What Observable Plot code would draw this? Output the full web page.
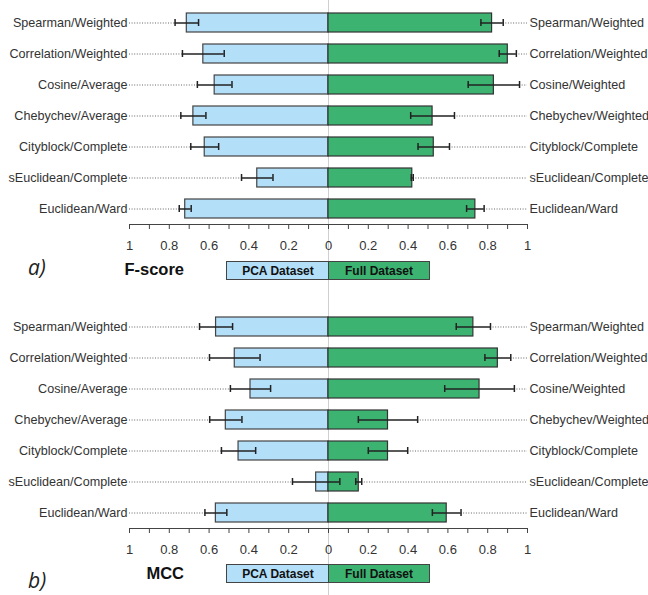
<!DOCTYPE html>
<html>
<head>
<meta charset="utf-8">
<script src="https://cdn.jsdelivr.net/npm/d3@7"></script>
<script src="https://cdn.jsdelivr.net/npm/@observablehq/plot@0.6"></script>
<style>
  html, body { margin: 0; padding: 0; background: #fff; }
  #wrap { position: relative; width: 648px; height: 595px; overflow: hidden; font-family: "Liberation Sans", Arial, sans-serif; }
  .abs { position: absolute; }
  .leg { position: absolute; box-sizing: border-box; border: 1px solid #444; font-weight: bold; font-size: 12px; color: #111; display: flex; align-items: center; justify-content: center; }
  .metric { position: absolute; font-weight: bold; font-size: 16.5px; color: #111; text-align: right; width: 100px; line-height: 20px; }
  .panel-tag { position: absolute; font-family: "Open Sans", sans-serif; font-style: italic; font-size: 21px; color: #222; line-height: 24px; }
</style>
</head>
<body>
<div id="wrap">
  <div class="abs" style="left:327.5px;top:0;width:1px;height:595px;background:#cfcfcf"></div>
  <div id="pa" class="abs" style="left:0;top:0"></div>
  <div id="pb" class="abs" style="left:0;top:304px"></div>

  <div class="panel-tag" style="left:28px;top:255px">a)</div>
  <div class="metric" style="left:84px;top:259px">F-score</div>
  <div class="leg" style="left:226px;top:261px;width:103px;height:19px;background:#b3dff9;border-right:none">PCA Dataset</div>
  <div class="leg" style="left:328px;top:261px;width:102px;height:19px;background:#3cb371">Full Dataset</div>

  <div class="panel-tag" style="left:28px;top:568px">b)</div>
  <div class="metric" style="left:84px;top:563px">MCC</div>
  <div class="leg" style="left:226px;top:564px;width:103px;height:19px;background:#b3dff9;border-right:none">PCA Dataset</div>
  <div class="leg" style="left:328px;top:564px;width:102px;height:19px;background:#3cb371">Full Dataset</div>
</div>
<script>
// Category labels
const leftLabels = ["Spearman/Weighted", "Correlation/Weighted", "Cosine/Average", "Chebychev/Average", "Cityblock/Complete", "sEuclidean/Complete", "Euclidean/Ward"];
const rightLabels = ["Spearman/Weighted", "Correlation/Weighted", "Cosine/Weighted", "Chebychev/Weighted", "Cityblock/Complete", "sEuclidean/Complete", "Euclidean/Ward"];

// a) F-score
const fscorePCA = [0.712, 0.629, 0.572, 0.679, 0.622, 0.358, 0.720];
const fscorePCAErr = [0.059, 0.105, 0.087, 0.063, 0.070, 0.079, 0.030];
const fscoreFull = [0.822, 0.901, 0.831, 0.523, 0.529, 0.421, 0.738];
const fscoreFullErr = [0.056, 0.043, 0.129, 0.110, 0.079, 0.005, 0.044];

// b) MCC
const mccPCA = [0.565, 0.471, 0.392, 0.516, 0.452, 0.062, 0.566];
const mccPCAErr = [0.083, 0.127, 0.101, 0.081, 0.086, 0.119, 0.055];
const mccFull = [0.728, 0.851, 0.759, 0.299, 0.299, 0.152, 0.594];
const mccFullErr = [0.086, 0.065, 0.175, 0.149, 0.099, 0.015, 0.072];

// Axis ticks (-1..1 step 0.1; labels every 0.2, shown as absolute values)
const tickValues = d3.range(-10, 11).map(k => k / 10);
const tickLabel = d => { const k = Math.round(d * 10); return k % 2 === 0 ? String(Math.abs(k) / 10) : ""; };

const pcaColor = "#b3dff9";
const fullColor = "#3cb371";

function panel(pca, pcaErr, full, fullErr) {
  const rows = leftLabels.map((l, i) => ({
    key: l, left: l, right: rightLabels[i],
    pca: pca[i], pe: pcaErr[i], full: full[i], fe: fullErr[i]
  }));
  const dot = {stroke: "#666", strokeWidth: 1, strokeDasharray: "1,1.6"};
  const err = {stroke: "#222", strokeWidth: 1.5};
  const cap = {stroke: "#222", strokeWidth: 1.5, insetTop: 6, insetBottom: 6};
  return Plot.plot({
    width: 648, height: 262,
    marginTop: 6, marginBottom: 38, marginLeft: 129, marginRight: 121,
    x: {domain: [-1, 1]},
    y: {domain: leftLabels, paddingInner: 0.4, paddingOuter: 0.2, axis: null},
    style: {fontFamily: "'Liberation Sans', Arial, sans-serif", background: "transparent", overflow: "visible", color: "#333"},
    marks: [
      // dotted leader lines
      Plot.ruleY(rows, {y: "key", x1: -1, x2: d => -(d.pca + d.pe), ...dot}),
      Plot.ruleY(rows, {y: "key", x1: d => d.full + d.fe, x2: 1, ...dot}),
      // bars
      Plot.barX(rows, {y: "key", x1: d => -d.pca, x2: 0, fill: pcaColor, stroke: "#444", strokeWidth: 1.2}),
      Plot.barX(rows, {y: "key", x1: 0, x2: d => d.full, fill: fullColor, stroke: "#333", strokeWidth: 1.2}),
      // error bars
      Plot.ruleY(rows, {y: "key", x1: d => -(d.pca + d.pe), x2: d => -(d.pca - d.pe), ...err}),
      Plot.tickX(rows, {y: "key", x: d => -(d.pca + d.pe), ...cap}),
      Plot.tickX(rows, {y: "key", x: d => -(d.pca - d.pe), ...cap}),
      Plot.ruleY(rows, {y: "key", x1: d => d.full - d.fe, x2: d => d.full + d.fe, ...err}),
      Plot.tickX(rows, {y: "key", x: d => d.full - d.fe, ...cap}),
      Plot.tickX(rows, {y: "key", x: d => d.full + d.fe, ...cap}),
      // category labels
      Plot.text(rows, {y: "key", x: -1, text: "left", textAnchor: "end", dx: -2, fontSize: 12.6, fill: "#333"}),
      Plot.text(rows, {y: "key", x: 1, text: "right", textAnchor: "start", dx: 2, fontSize: 12.6, fill: "#333"}),
      // x axis
      Plot.frame({anchor: "bottom", stroke: "#444"}),
      Plot.axisX({ticks: tickValues, tickFormat: tickLabel, tickSize: 5, tickPadding: 11, fontSize: 13, stroke: "#444", fill: "#333"})
    ]
  });
}

document.getElementById("pa").appendChild(panel(fscorePCA, fscorePCAErr, fscoreFull, fscoreFullErr));
document.getElementById("pb").appendChild(panel(mccPCA, mccPCAErr, mccFull, mccFullErr));
</script>
</body>
</html>
